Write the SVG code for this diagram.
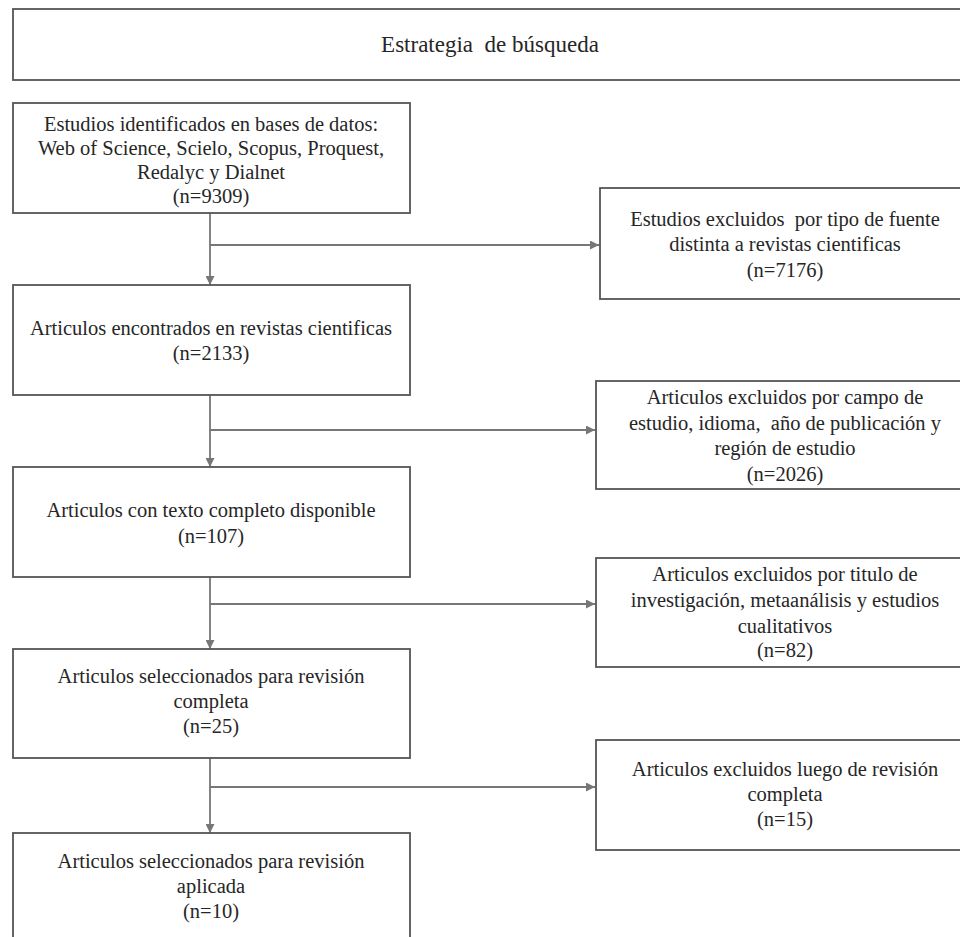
<svg xmlns="http://www.w3.org/2000/svg" width="960" height="937" viewBox="0 0 960 937">
<defs>
<style>
.box{fill:#fff;stroke:#555;stroke-width:1.8}
.t{font-family:"Liberation Serif","Times New Roman",serif;font-size:20.5px;fill:#262626;text-anchor:middle}
.title{font-size:23px}
.c{fill:none;stroke:#777;stroke-width:1.8}
</style>
<marker id="ah" viewBox="0 0 10 10" refX="10" refY="5" markerWidth="9" markerHeight="9" markerUnits="userSpaceOnUse" orient="auto">
<path d="M0,0 L10,5 L0,10 Z" fill="#777"/>
</marker>
</defs>
<rect width="960" height="937" fill="#fff"/>
<g id="title">
<rect class="box" x="13" y="9" width="952" height="71"/>
<text class="t title" x="490" y="52" xml:space="preserve">Estrategia  de búsqueda</text>
</g>
<g id="connectors">
<line class="c" x1="210" y1="213" x2="210" y2="285" marker-end="url(#ah)"/>
<line class="c" x1="210" y1="245" x2="599" y2="245" marker-end="url(#ah)"/>
<line class="c" x1="210" y1="395" x2="210" y2="467" marker-end="url(#ah)"/>
<line class="c" x1="210" y1="430" x2="595" y2="430" marker-end="url(#ah)"/>
<line class="c" x1="210" y1="577" x2="210" y2="649" marker-end="url(#ah)"/>
<line class="c" x1="210" y1="604" x2="595" y2="604" marker-end="url(#ah)"/>
<line class="c" x1="210" y1="758" x2="210" y2="833" marker-end="url(#ah)"/>
<line class="c" x1="210" y1="787" x2="595" y2="787" marker-end="url(#ah)"/>
</g>
<g id="n1">
<rect class="box" x="13" y="103" width="397" height="110"/>
<text class="t" x="211" y="131">Estudios identificados en bases de datos:</text>
<text class="t" x="211" y="155">Web of Science, Scielo,  Scopus, Proquest,</text>
<text class="t" x="211" y="179">Redalyc y Dialnet</text>
<text class="t" x="211" y="203">(n=9309)</text>
</g>
<g id="n2">
<rect class="box" x="13" y="285" width="397" height="110"/>
<text class="t" x="211" y="335">Articulos  encontrados en revistas cientificas</text>
<text class="t" x="211" y="360">(n=2133)</text>
</g>
<g id="n3">
<rect class="box" x="13" y="467" width="397" height="110"/>
<text class="t" x="211" y="517">Articulos con texto completo disponible</text>
<text class="t" x="211" y="543">(n=107)</text>
</g>
<g id="n4">
<rect class="box" x="13" y="649" width="397" height="109"/>
<text class="t" x="211" y="683">Articulos seleccionados para revisión</text>
<text class="t" x="211" y="708">completa</text>
<text class="t" x="211" y="733">(n=25)</text>
</g>
<g id="n5">
<rect class="box" x="13" y="833" width="397" height="120"/>
<text class="t" x="211" y="868">Articulos seleccionados para revisión</text>
<text class="t" x="211" y="893">aplicada</text>
<text class="t" x="211" y="918">(n=10)</text>
</g>
<g id="r1">
<rect class="box" x="600" y="188" width="365" height="111"/>
<text class="t" x="785" y="226" xml:space="preserve">Estudios excluidos  por tipo de fuente</text>
<text class="t" x="785" y="251">distinta a revistas cientificas</text>
<text class="t" x="785" y="277">(n=7176)</text>
</g>
<g id="r2">
<rect class="box" x="596" y="381" width="369" height="108"/>
<text class="t" x="785" y="404">Articulos excluidos por campo de</text>
<text class="t" x="785" y="430" xml:space="preserve">estudio, idioma,  año de publicación y</text>
<text class="t" x="785" y="455">región de estudio</text>
<text class="t" x="785" y="481">(n=2026)</text>
</g>
<g id="r3">
<rect class="box" x="596" y="558" width="369" height="109"/>
<text class="t" x="785" y="581">Articulos excluidos por titulo de</text>
<text class="t" x="785" y="607">investigación, metaanálisis y estudios</text>
<text class="t" x="785" y="633">cualitativos</text>
<text class="t" x="785" y="657">(n=82)</text>
</g>
<g id="r4">
<rect class="box" x="596" y="740" width="369" height="110"/>
<text class="t" x="785" y="776">Articulos excluidos luego de revisión</text>
<text class="t" x="785" y="801">completa</text>
<text class="t" x="785" y="826">(n=15)</text>
</g>
</svg>
